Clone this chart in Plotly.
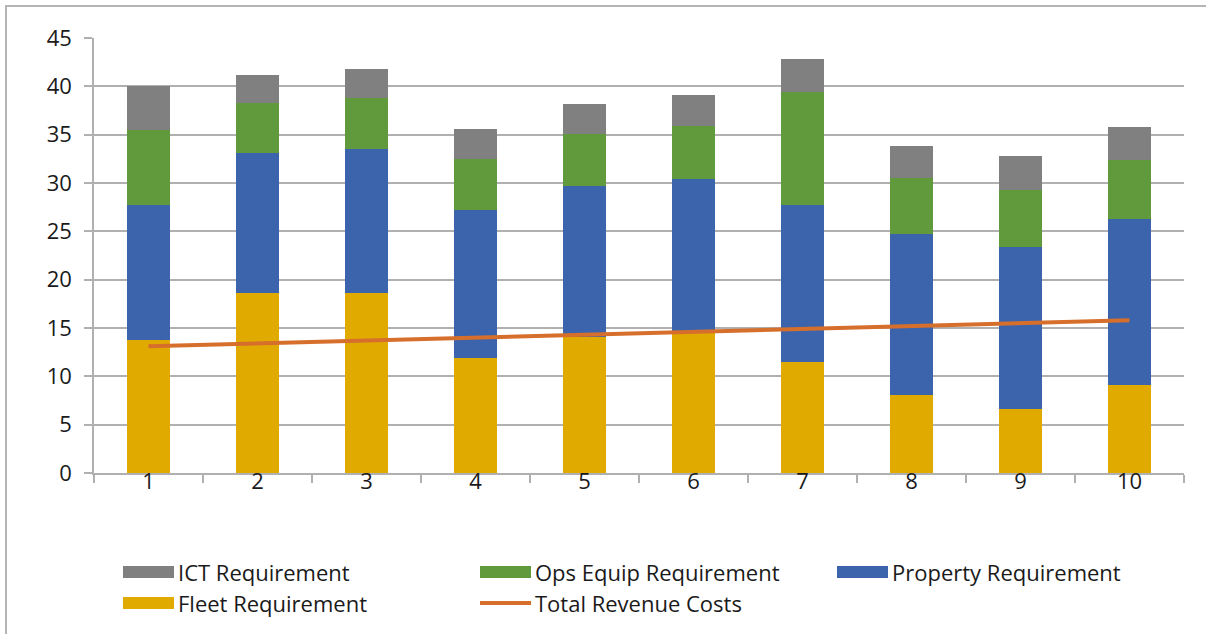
import plotly.graph_objects as go

# Category labels and stacked series values
categories = ["1", "2", "3", "4", "5", "6", "7", "8", "9", "10"]
fleet = [13.8, 18.6, 18.6, 11.9, 14.1, 14.5, 11.5, 8.1, 6.6, 9.1]
property_req = [13.9, 14.5, 14.9, 15.3, 15.6, 15.9, 16.2, 16.6, 16.8, 17.2]
ops_equip = [7.8, 5.2, 5.3, 5.3, 5.4, 5.5, 11.7, 5.8, 5.9, 6.1]
ict = [4.5, 2.9, 3.0, 3.1, 3.1, 3.2, 3.4, 3.3, 3.5, 3.4]
total_revenue = [13.1, 13.4, 13.7, 14.0, 14.3, 14.6, 14.9, 15.2, 15.5, 15.8]

names = ["ICT Requirement", "Ops Equip Requirement", "Property Requirement",
         "Fleet Requirement", "Total Revenue Costs"]
colors = {
    "ICT Requirement": "#808080",
    "Ops Equip Requirement": "#619a3d",
    "Property Requirement": "#3c64ac",
    "Fleet Requirement": "#e1aa00",
    "Total Revenue Costs": "#d66f2b",
}

FONT = "Open Sans"
TEXT = "#1a1a1a"
GRID = "#b0b0b0"
FS = 22

fig = go.Figure()
for name, vals in [("Fleet Requirement", fleet), ("Property Requirement", property_req),
                   ("Ops Equip Requirement", ops_equip), ("ICT Requirement", ict)]:
    fig.add_trace(go.Bar(x=categories, y=vals, name=name,
                         marker=dict(color=colors[name], line=dict(width=0)),
                         showlegend=False))

fig.add_trace(go.Scatter(x=categories, y=total_revenue, name="Total Revenue Costs",
                         mode="lines", line=dict(color=colors["Total Revenue Costs"], width=4),
                         showlegend=False))

# Plot area geometry (pixels) used to place the hand-drawn legend
W, H = 1206, 634
L, R, T, B = 94, 22, 38, 161
pw, ph = W - L - R, H - T - B


def px(x):
    return (x - L) / pw


def py(y):
    return (H - B - y) / ph


shapes = []
annotations = []
legend_items = [
    ("ICT Requirement", 123, 572, "box"),
    ("Ops Equip Requirement", 480, 572, "box"),
    ("Property Requirement", 837, 572, "box"),
    ("Fleet Requirement", 123, 603, "box"),
    ("Total Revenue Costs", 480, 603, "line"),
]
for name, x0, yc, kind in legend_items:
    if kind == "box":
        shapes.append(dict(type="rect", xref="paper", yref="paper",
                           x0=px(x0), x1=px(x0 + 51), y0=py(yc - 6), y1=py(yc + 6),
                           fillcolor=colors[name], line=dict(width=0)))
    else:
        shapes.append(dict(type="line", xref="paper", yref="paper",
                           x0=px(x0), x1=px(x0 + 51), y0=py(yc), y1=py(yc),
                           line=dict(color=colors[name], width=4)))
    annotations.append(dict(xref="paper", yref="paper", x=px(x0 + 53), y=py(yc),
                            xanchor="left", yanchor="middle", showarrow=False,
                            text=name, font=dict(family=FONT, size=FS, color=TEXT)))

# Outer chart border
shapes.append(dict(type="rect", xref="paper", yref="paper",
                   x0=px(6), x1=px(1220), y0=py(6), y1=py(650),
                   line=dict(color="#b5b5b5", width=2), fillcolor="rgba(0,0,0,0)",
                   layer="below"))

fig.update_layout(
    barmode="stack",
    bargap=0.6,
    width=W, height=H,
    margin=dict(l=L, r=R, t=T, b=B),
    paper_bgcolor="white",
    plot_bgcolor="white",
    font=dict(family=FONT, size=FS, color=TEXT),
    shapes=shapes,
    annotations=annotations,
    showlegend=False,
    xaxis=dict(type="category", range=[-0.5, 9.5], showgrid=False,
               showline=True, linecolor=GRID, linewidth=1.5,
               ticks="outside", tickson="boundaries", ticklen=8, tickcolor=GRID,
               tickwidth=1.5, ticklabelstandoff=-12,
               tickfont=dict(family=FONT, size=22, color=TEXT)),
    yaxis=dict(range=[0, 45], dtick=5, showgrid=True, gridcolor=GRID, gridwidth=1.5,
               showline=True, linecolor=GRID, linewidth=1.5, zeroline=False,
               ticks="outside", ticklen=8, tickcolor=GRID, tickwidth=1.5,
               ticklabelstandoff=8,
               tickfont=dict(family=FONT, size=22, color=TEXT)),
)

fig.write_html("out.html")
